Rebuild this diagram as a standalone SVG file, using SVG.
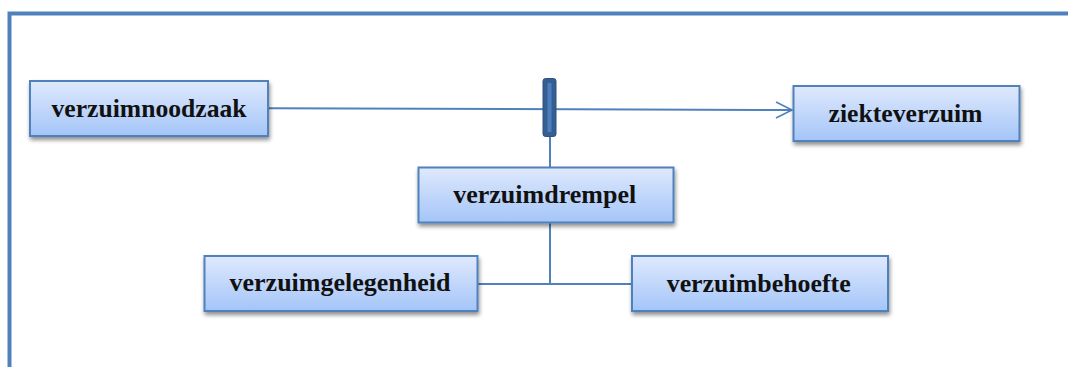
<svg xmlns="http://www.w3.org/2000/svg" width="1068" height="367" viewBox="0 0 1068 367">
  <defs>
    <linearGradient id="boxFill" x1="0" y1="0" x2="0" y2="1">
      <stop offset="0" stop-color="#dfe9fd"/>
      <stop offset="1" stop-color="#a4c5f8"/>
    </linearGradient>
    <filter id="shadow" x="-10%" y="-20%" width="130%" height="160%">
      <feGaussianBlur in="SourceAlpha" stdDeviation="2"/>
      <feOffset dx="1" dy="3" result="b"/>
      <feComponentTransfer><feFuncA type="linear" slope="0.45"/></feComponentTransfer>
      <feMerge><feMergeNode/><feMergeNode in="SourceGraphic"/></feMerge>
    </filter>
    <marker id="openArrow" viewBox="0 0 20 20" refX="18" refY="10" markerWidth="20" markerHeight="20" markerUnits="userSpaceOnUse" orient="auto">
      <path d="M2,2 L18,10 L2,18" fill="none" stroke="#4f81bd" stroke-width="1.6"/>
    </marker>
  </defs>
  <style>
    .frame { fill: none; stroke: #4f81bd; stroke-width: 4; }
    .box { fill: url(#boxFill); stroke: #4f81bd; stroke-width: 2; filter: url(#shadow); }
    .label { font-family: "Liberation Serif", "Times New Roman", serif; font-weight: bold; font-size: 24.5px; fill: #111; text-anchor: middle; }
    .conn { fill: none; stroke: #4f81bd; stroke-width: 2; }
  </style>

  <rect width="1068" height="367" fill="#ffffff"/>
  <!-- outer frame: top and left edges -->
  <path class="frame" d="M9.5,367 L9.5,13.5 L1068,13.5"/>

  <!-- connectors -->
  <g id="connectors">
    <line class="conn" x1="268" y1="108.3" x2="792" y2="110" marker-end="url(#openArrow)"/>
    <line class="conn" x1="550" y1="137" x2="550" y2="167"/>
    <line class="conn" x1="550" y1="222" x2="550" y2="284"/>
    <line class="conn" x1="477" y1="284" x2="632" y2="284"/>
    <!-- threshold bar -->
    <rect x="543" y="78.5" width="13" height="58" rx="2.5" fill="#365f91" stroke="#2f5283" stroke-width="1"/>
    <rect x="547.5" y="83" width="4" height="49" fill="#4a7ebf"/>
  </g>

  <g id="verzuimnoodzaak">
    <rect class="box" x="30" y="81" width="238" height="55"/>
    <text class="label" x="149" y="117.3" textLength="195" lengthAdjust="spacingAndGlyphs">verzuimnoodzaak</text>
  </g>
  <g id="ziekteverzuim">
    <rect class="box" x="793.5" y="86" width="226" height="55"/>
    <text class="label" x="905.5" y="121.7" textLength="154" lengthAdjust="spacingAndGlyphs">ziekteverzuim</text>
  </g>
  <g id="verzuimdrempel">
    <rect class="box" x="418.5" y="167.5" width="255" height="55"/>
    <text class="label" x="544.7" y="203.3" textLength="183" lengthAdjust="spacingAndGlyphs">verzuimdrempel</text>
  </g>
  <g id="verzuimgelegenheid">
    <rect class="box" x="204.5" y="256" width="273" height="55"/>
    <text class="label" x="340" y="291" textLength="221" lengthAdjust="spacingAndGlyphs">verzuimgelegenheid</text>
  </g>
  <g id="verzuimbehoefte">
    <rect class="box" x="632" y="256" width="256" height="55"/>
    <text class="label" x="758.7" y="291.7" textLength="184" lengthAdjust="spacingAndGlyphs">verzuimbehoefte</text>
  </g>
</svg>
